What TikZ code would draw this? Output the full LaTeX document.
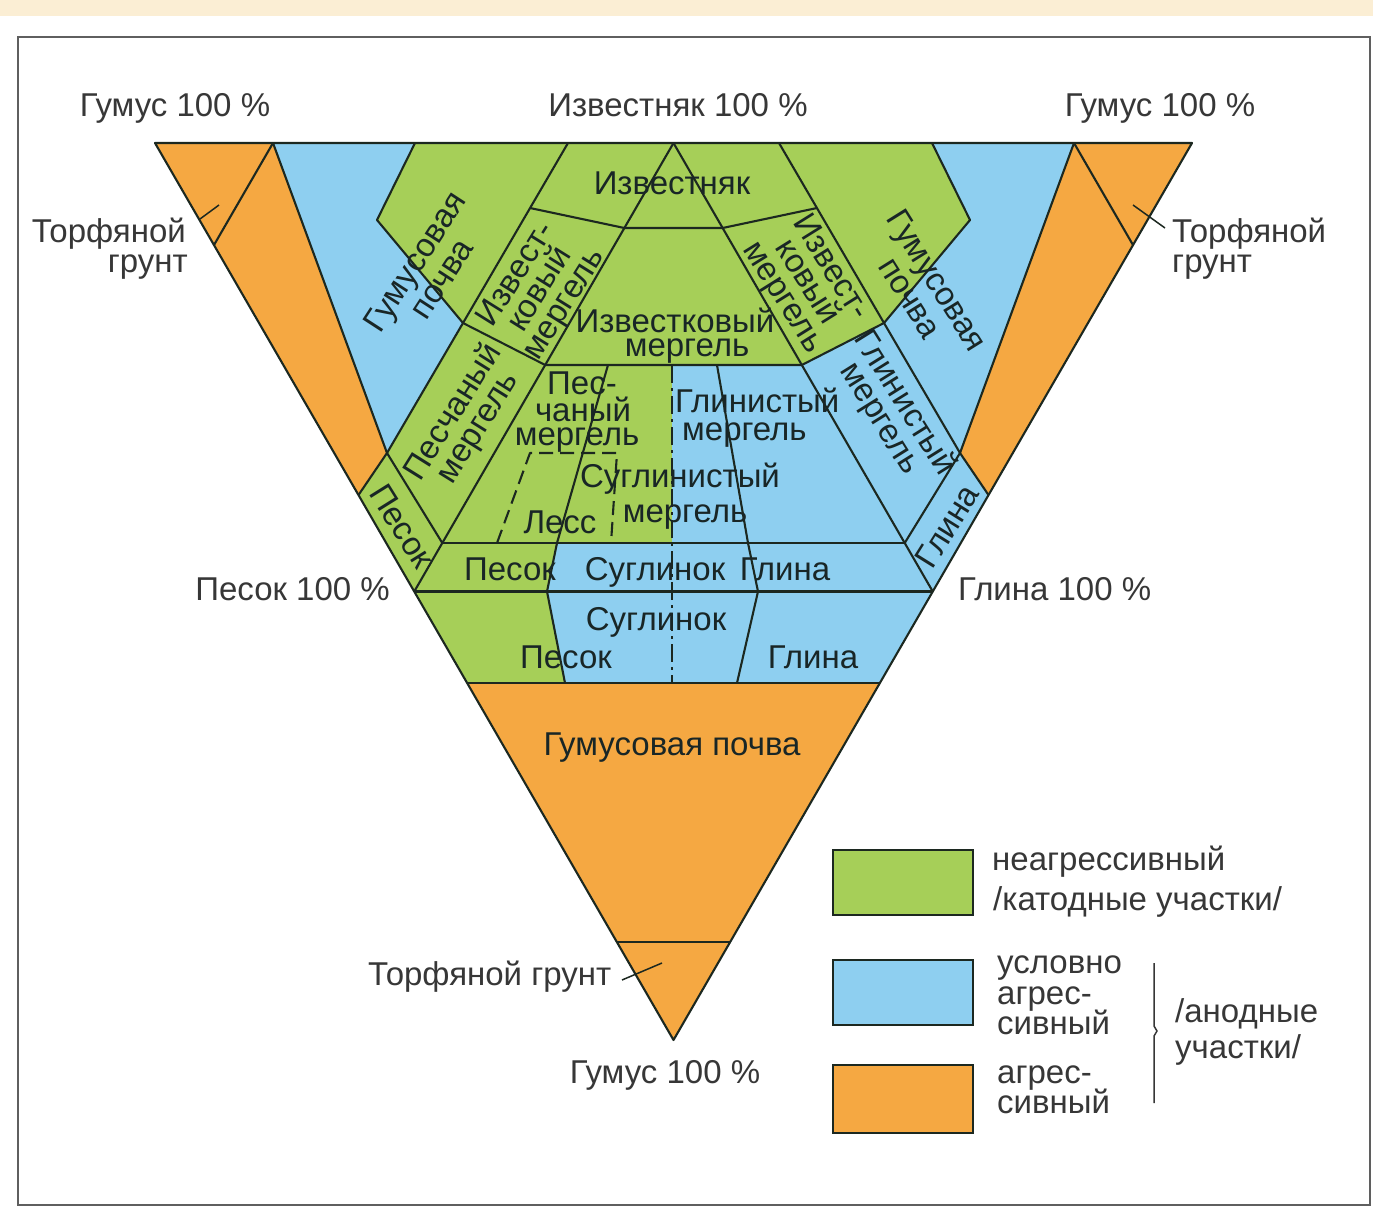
\documentclass[tikz,border=0pt]{standalone}
\usepackage{fontspec}
\setmainfont{Liberation Sans}
\usetikzlibrary{calc}
\definecolor{cgreen}{RGB}{166,207,88}
\definecolor{cblue}{RGB}{142,207,240}
\definecolor{corange}{RGB}{245,168,66}
\definecolor{cline}{RGB}{28,40,32}
\definecolor{ctext}{RGB}{55,55,55}
\definecolor{cdark}{RGB}{25,38,38}
\definecolor{cbeige}{RGB}{251,238,212}
\definecolor{cframe}{RGB}{95,95,95}
\begin{document}
\begin{tikzpicture}[x=1pt,y=-1pt,
  bnd/.style={line width=2.1pt, draw=cline, line join=round},
  lead/.style={line width=1.5pt, draw=cline},
  lbl/.style={font=\fontsize{33}{30}\selectfont, text=ctext, inner sep=0pt},
  rlbl/.style={lbl, text=cdark},
  legbox/.style={draw=cline, line width=2pt, minimum width=140pt, inner sep=0pt},
  dashdot/.style={dash pattern=on 18pt off 5pt on 3pt off 5pt}
]
\useasboundingbox (0,0) rectangle (1373,1208);
\fill[cbeige] (0,0) rectangle (1373,16);
\fill[white] (0,16) rectangle (1373,1208);
\draw[cframe, line width=2pt] (18,37) rectangle (1370,1205);

% ---- geometry
\coordinate (TL) at (155,143);
\coordinate (TR) at (1192,143);
\coordinate (B) at (673.5,1040);
\coordinate (A) at (673.5,143);
\coordinate (S) at (414.25,591.5);
\coordinate (G) at (932.75,591.5);
\coordinate (P1) at (273,143);   \coordinate (P1r) at (1074,143);
\coordinate (Pe) at (214,245);   \coordinate (Per) at (1133,245);
\coordinate (O1) at (387,453);   \coordinate (O1r) at (960,453);
\coordinate (O2) at (358.5,495); \coordinate (O2r) at (988.5,495);
\coordinate (Q1) at (415,143);   \coordinate (Q1r) at (932,143);
\coordinate (Q2) at (377,220);   \coordinate (Q2r) at (970,220);
\coordinate (Q3) at (463,323);   \coordinate (Q3r) at (884,323);
\coordinate (L1) at (568,143);   \coordinate (L6) at (779,143);
\coordinate (L2) at (530,208);   \coordinate (L5) at (817,208);
\coordinate (L3) at (624.4,228); \coordinate (L4) at (722.6,228);
\coordinate (M1) at (545.2,365); \coordinate (M2) at (801.8,365);
\coordinate (N1) at (442.3,543); \coordinate (N1r) at (904.7,543);
\coordinate (H1) at (467.1,683); \coordinate (H2) at (879.9,683);
\coordinate (T1) at (616.8,942); \coordinate (T2) at (730.2,942);
\coordinate (C1) at (608,365); \coordinate (C2) at (557,543);
\coordinate (C3) at (547,591.5); \coordinate (C4) at (565,683);
\coordinate (D1) at (717,365); \coordinate (D2) at (748,543);
\coordinate (D3) at (758,591.5); \coordinate (D4) at (737,683);
\coordinate (V1) at (672,365); \coordinate (V2) at (672,543); \coordinate (V3) at (672,683);
\coordinate (E1) at (497,543); \coordinate (E2) at (530,453);
\coordinate (E3) at (617,453); \coordinate (E4) at (611,543);

% ---- fills
\fill[cgreen] (TL)--(TR)--(B)--cycle;
\fill[corange] (TL)--(P1)--(O1)--(O2)--cycle;
\fill[corange] (TR)--(P1r)--(O1r)--(O2r)--cycle;
\fill[corange] (H1)--(H2)--(B)--cycle;
\fill[cblue] (P1)--(Q1)--(Q2)--(Q3)--(O1)--cycle;
\fill[cblue] (P1r)--(Q1r)--(Q2r)--(Q3r)--(O1r)--cycle;
\fill[cblue] (Q3r)--(M2)--(G)--(O2r)--(O1r)--cycle;
\fill[cblue] (V1)--(M2)--(G)--(H2)--(C4)--(C3)--(C2)--(V2)--cycle;

% ---- boundaries
\draw[bnd] (P1)--(Pe);
\draw[bnd] (P1r)--(Per);
\draw[bnd] (T1)--(T2);
\draw[bnd] (P1)--(O1)--(O2);
\draw[bnd] (P1r)--(O1r)--(O2r);
\draw[bnd] (Q1)--(Q2)--(Q3)--(O1);
\draw[bnd] (Q1r)--(Q2r)--(Q3r)--(O1r);
\draw[bnd] (L1)--(Q3);
\draw[bnd] (L6)--(Q3r);
\draw[bnd] (L2)--(L3)--(L4)--(L5);
\draw[bnd] (A)--(S);
\draw[bnd] (A)--(G);
\draw[bnd] (Q3)--(M1)--(M2)--(Q3r);
\draw[bnd] (O1)--(N1);
\draw[bnd] (O1r)--(N1r);
\draw[bnd] (N1)--(N1r);
\draw[bnd] (S)--(G);
\draw[bnd] (H1)--(H2);
\draw[bnd] (C1)--(C2)--(C3)--(C4);
\draw[bnd] (D1)--(D2)--(D3)--(D4);
\draw[bnd, dash pattern=on 14pt off 7pt] (E1)--(E2)--(E3)--(E4);
\draw[bnd, dashdot] (V1)--(V3);
\draw[bnd] (TL)--(TR)--(B)--cycle;

% ---- outer labels
\node[lbl, anchor=base] (gumTL) at (175,116) {Гумус 100 \%};
\node[lbl, anchor=base] (izv100) at (678,116) {Известняк 100 \%};
\node[lbl, anchor=base] (gumTR) at (1160,116) {Гумус 100 \%};
\node[lbl, anchor=base east] (torfL1) at (186,242) {Торфяной};
\node[lbl, anchor=base east] (torfL2) at (188,272) {грунт};
\node[lbl, anchor=base west] (torfR1) at (1172,242) {Торфяной};
\node[lbl, anchor=base west] (torfR2) at (1172,272) {грунт};
\node[lbl, anchor=base east] (pes100) at (390,600) {Песок 100 \%};
\node[lbl, anchor=base west] (gl100) at (958,600) {Глина 100 \%};
\node[lbl, anchor=base west] (torfB) at (368,985) {Торфяной грунт};
\node[lbl, anchor=base] (gumB) at (665,1083) {Гумус 100 \%};

\coordinate (tlA) at (200,219); \coordinate (tlB) at (219,205);
\coordinate (trA) at (1165,228); \coordinate (trB) at (1133,205);
\coordinate (tbA) at (622,980); \coordinate (tbB) at (662,963);
\draw[lead] (tlA)--(tlB);
\draw[lead] (trA)--(trB);
\draw[lead] (tbA)--(tbB);

% ---- region labels
\node[rlbl, anchor=base] (izvk) at (672,194) {Известняк};
\node[rlbl, anchor=base] (izm1) at (675,332) {Известковый};
\node[rlbl, anchor=base] (izm2) at (687,356) {мергель};
\node[rlbl, rotate=57, align=center, font=\fontsize{33}{32}\selectfont] (ghL) at (428,270) {Гумусовая\\почва};
\node[rlbl, rotate=-58, align=center, font=\fontsize{33}{32}\selectfont] (ghR) at (924,289) {Гумусовая\\почва};
\node[rlbl, rotate=58, align=center, font=\fontsize{33}{28}\selectfont] (ikL) at (541,290) {Извест-\\ковый\\мергель};
\node[rlbl, rotate=-58, align=center, font=\fontsize{33}{28}\selectfont] (ikR) at (806,283) {Извест-\\ковый\\мергель};
\node[rlbl, rotate=58, align=center, font=\fontsize{33}{29}\selectfont] (pmL) at (466,420) {Песчаный\\мергель};
\node[rlbl, rotate=-58, align=center, font=\fontsize{33}{29}\selectfont] (gmR) at (892,411) {Глинистый\\мергель};
\node[rlbl, rotate=-58] (pesL) at (402,526) {Песок};
\node[rlbl, rotate=58] (glR) at (947,526) {Глина};
\node[rlbl, anchor=base] (pc1) at (582,394) {Пес-};
\node[rlbl, anchor=base] (pc2) at (583,421) {чаный};
\node[rlbl, anchor=base] (pc3) at (577,445) {мергель};
\node[rlbl, anchor=base west] (gm1) at (675,412) {Глинистый};
\node[rlbl, anchor=base west] (gm2) at (682,440) {мергель};
\node[rlbl, anchor=base] (sm1) at (680,487) {Суглинистый};
\node[rlbl, anchor=base] (sm2) at (685,522) {мергель};
\node[rlbl, anchor=base] (less) at (560,533) {Лесс};
\node[rlbl, anchor=base] (bp) at (510,580) {Песок};
\node[rlbl, anchor=base] (bs) at (655,580) {Суглинок};
\node[rlbl, anchor=base] (bg) at (785,580) {Глина};
\node[rlbl, anchor=base] (ls) at (656,630) {Суглинок};
\node[rlbl, anchor=base] (lp) at (566,668) {Песок};
\node[rlbl, anchor=base] (lg) at (813,668) {Глина};
\node[rlbl, anchor=base] (ghB) at (672,755) {Гумусовая почва};

% ---- legend
\node[legbox, fill=cgreen, minimum height=65pt] (kg) at (903,882.5) {};
\node[legbox, fill=cblue, minimum height=65pt] (kb) at (903,992.5) {};
\node[legbox, fill=corange, minimum height=68pt] (ko) at (903,1099) {};
\node[lbl, anchor=base west] (t1) at (992,870) {неагрессивный};
\node[lbl, anchor=base west] (t2) at (993,910) {/катодные участки/};
\node[lbl, anchor=base west] (t3) at (997,973) {условно};
\node[lbl, anchor=base west] (t4) at (997,1004) {агрес-};
\node[lbl, anchor=base west] (t5) at (997,1034) {сивный};
\node[lbl, anchor=base west] (t6) at (997,1083) {агрес-};
\node[lbl, anchor=base west] (t7) at (997,1113) {сивный};
\node[lbl, anchor=base west] (t8) at (1175,1022) {/анодные};
\node[lbl, anchor=base west] (t9) at (1175,1058) {участки/};
\coordinate (brA) at (1154,963); \coordinate (brM) at (1157,1031); \coordinate (brB) at (1154,1103);
\draw[line width=1.5pt, ctext] (brA)--(1154,1026)--(brM)--(1154,1036)--(brB);
\end{tikzpicture}
\end{document}
